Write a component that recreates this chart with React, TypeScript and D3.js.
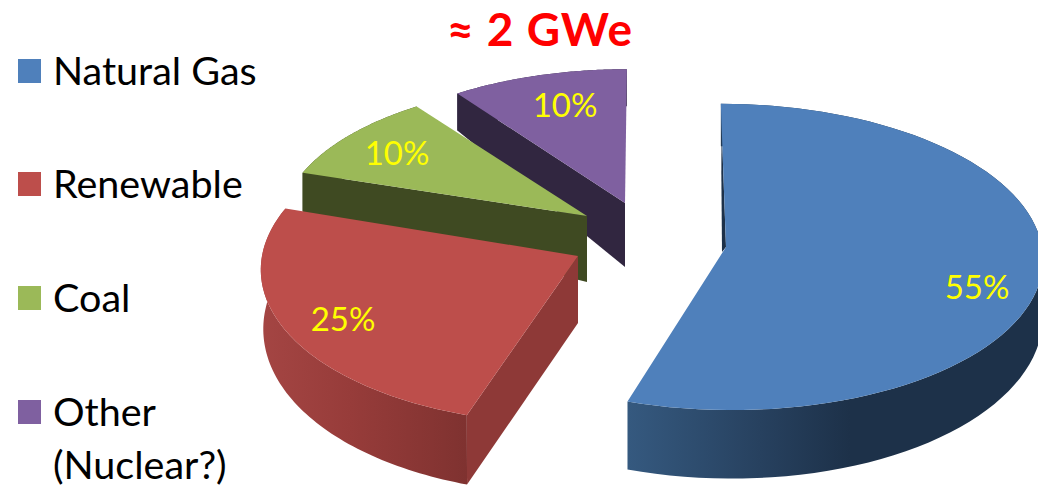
import React from "react";
import * as d3 from "d3";

const categories = ["Natural Gas", "Renewable", "Coal", "Other (Nuclear?)"];
const shares = [55, 25, 10, 10];
const shareLabels = ["55%", "25%", "10%", "10%"];
const title = "≈ 2 GWe";

const W = 1038;
const H = 486;
const FONT = "Lato, 'Open Sans', sans-serif";
const K = 0.065;

// exploded-slice geometry, one entry per category
const geo = [
  { cx: 726, cy: 247, rx: 316, ry: 152.5, sh: 5.5, d0: 66, dRim: 55.5, dSlope: 13, dxDown: 0 },
  { cx: 578, cy: 256, rx: 316, ry: 157, sh: -7, d0: 67, dRim: 58, dSlope: 12, dxDown: 2.5 },
  { cx: 587, cy: 216, rx: 305, ry: 142.5, sh: 0, d0: 66, dRim: 39, dSlope: 0, dxDown: 0 },
  { cx: 625, cy: 203, rx: 303, ry: 142.5, sh: -2, d0: 64, dRim: 37, dSlope: 0, dxDown: 0 },
];
const topColors = ["#4f80bb", "#bd4e4b", "#9bb958", "#7f60a0"];
const wallColors = ["#1d3149", "#8e3937", "#3f4a22", "#312640"];
const sideStops: [number, string][][] = [
  [[628, "#35597f"], [760, "#27415f"], [850, "#1d3149"], [1038, "#1d3149"]],
  [[262, "#a44543"], [350, "#973c3a"], [467, "#7f3230"]],
  [[300, "#3f4a22"], [590, "#3f4a22"]],
  [[455, "#312640"], [630, "#312640"]],
];
const labelPos = [
  [977, 286],
  [343, 318],
  [397, 152],
  [565, 104],
];
const legendRows = [
  { lines: ["Natural Gas"], y: 71 },
  { lines: ["Renewable"], y: 184 },
  { lines: ["Coal"], y: 298 },
  { lines: ["Other", "(Nuclear?)"], y: 412 },
];

const pie = d3.pie<number>().sort(null).startAngle(0).endAngle(2 * Math.PI);
const arcs = pie(shares);
const line = d3.line();

type G = (typeof geo)[number];
function project(g: G, a: number, r: number, down = false): [number, number] {
  const u = Math.sin(a) * r;
  const v = -Math.cos(a) * r;
  const s = 1 / (1 - K * v);
  let x = g.cx + (u * g.rx + g.sh * v) * s;
  let y = g.cy + g.ry * v * s;
  if (down) {
    y += g.d0 + (g.dRim + g.dSlope * -Math.cos(a) - g.d0) * r;
    x += g.dxDown * u * u;
  }
  return [x, y];
}
function rim(g: G, a0: number, a1: number, down = false) {
  return d3.range(0, 81).map((i) => project(g, a0 + ((a1 - a0) * i) / 80, 1, down));
}

export default function App() {
  return (
    <svg
      width={W}
      height={H}
      viewBox={`0 0 ${W} ${H}`}
      style={{ position: "absolute", left: 0, top: 0, background: "#fff" }}
    >
      <defs>
        {sideStops.map((stops, i) => {
          const x0 = stops[0][0];
          const x1 = stops[stops.length - 1][0];
          return (
            <linearGradient key={i} id={`side${i}`} gradientUnits="userSpaceOnUse" x1={x0} x2={x1} y1={0} y2={0}>
              {stops.map(([x, c], j) => (
                <stop key={j} offset={(x - x0) / (x1 - x0)} stopColor={c} />
              ))}
            </linearGradient>
          );
        })}
      </defs>

      {/* draw back to front */}
      {[3, 2, 1, 0].map((i) => {
        const g = geo[i];
        const a = arcs[i];
        const apex = project(g, 0, 0);
        const apexDown = project(g, 0, 0, true);
        const top = rim(g, a.startAngle, a.endAngle);
        const bottom = rim(g, a.startAngle, a.endAngle, true);
        const startRim = top[0];
        const startRimDown = bottom[0];
        const sidePath = line([...top, ...bottom.slice().reverse()]) + "Z";
        const wallPath = line([apex, startRim, startRimDown, apexDown]) + "Z";
        const topPath = line([apex, ...top]) + "Z";
        const sliver =
          i === 0
            ? line([
                project(g, a.startAngle, 0.86),
                [project(g, a.startAngle, 0.5)[0] - 2, project(g, a.startAngle, 0.5)[1]],
                [apex[0] - 4, apex[1] + 5],
                apex,
              ]) + "Z"
            : null;
        return (
          <g key={categories[i]}>
            <path d={sidePath} fill={`url(#side${i})`} />
            {i !== 0 && <path d={wallPath} fill={wallColors[i]} />}
            {sliver && <path d={sliver} fill={wallColors[0]} />}
            <path d={topPath} fill={topColors[i]} />
          </g>
        );
      })}

      {shareLabels.map((t, i) => (
        <text
          key={i}
          x={labelPos[i][0]}
          y={labelPos[i][1]}
          textAnchor="middle"
          dominantBaseline="central"
          fontFamily={FONT}
          fontSize={33}
          fill="#ffff00"
        >
          {t}
        </text>
      ))}

      <text
        x={540}
        y={45.5}
        textAnchor="middle"
        fontFamily={FONT}
        fontWeight={700}
        fontSize={46}
        letterSpacing={1}
        fill="#ff0000"
      >
        {title}
      </text>

      {legendRows.map((row, i) => (
        <g key={i}>
          <rect x={18} y={row.y - 12} width={23} height={24} fill={topColors[i]} />
          {row.lines.map((l, j) => (
            <text key={l} x={53} y={row.y + 14 + j * 53} fontFamily={FONT} fontSize={39.5} fill="#000">
              {l}
            </text>
          ))}
        </g>
      ))}
    </svg>
  );
}
